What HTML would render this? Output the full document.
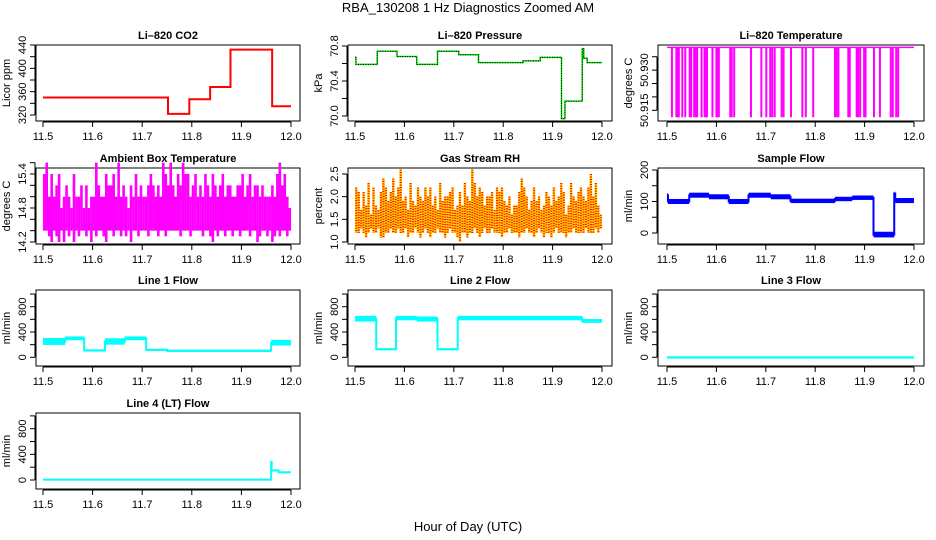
<!DOCTYPE html>
<html><head><meta charset="utf-8">
<style>
html,body{margin:0;padding:0;background:#fff;}
svg{display:block;font-family:"Liberation Sans",sans-serif;}
.pt{font-weight:bold;font-size:11px;}
.tk{font-size:11px;}
</style></head>
<body>
<svg id="fig" width="936" height="540" viewBox="0 0 936 540">
<text x="468" y="12" text-anchor="middle" font-size="13">RBA_130208  1 Hz Diagnostics Zoomed AM</text>
<text x="468" y="531" text-anchor="middle" font-size="13">Hour of Day (UTC)</text>
</svg>
<script>
// ---- data ----
const xTicks = [11.5, 11.6, 11.7, 11.8, 11.9, 12.0];
const xTickLabels = ["11.5", "11.6", "11.7", "11.8", "11.9", "12.0"];

const co2Times = [11.5, 11.752, 11.795, 11.837, 11.878, 11.962, 12.0];
const co2Values = [350, 322, 347, 368, 432, 335, 335];

const presTimes = [11.5, 11.502, 11.545, 11.585, 11.625, 11.667, 11.71, 11.75, 11.84, 11.875, 11.918, 11.925, 11.96, 11.963, 11.97, 12.0];
const presValues = [70.67, 70.59, 70.74, 70.68, 70.59, 70.74, 70.70, 70.61, 70.63, 70.67, 69.97, 70.17, 70.77, 70.66, 70.61, 70.61];

const tempTop = 50.9385;
const tempLow = 50.9124;
const tempDropTimes = [11.510,11.519,11.522,11.524,11.531,11.537,11.546,11.549,11.555,11.558,11.561,11.570,11.576,11.579,11.581,11.592,11.600,11.603,11.605,11.628,11.631,11.636,11.670,11.691,11.701,11.709,11.713,11.718,11.732,11.736,11.751,11.774,11.781,11.796,11.840,11.843,11.847,11.867,11.870,11.884,11.887,11.891,11.899,11.902,11.919,11.931,11.953,11.957,11.964,11.968];

const ambHi = [15.4,15.6,15.0,15.4,15.0,15.2,15.4,14.8,15.0,15.2,15.0,14.8,15.4,15.0,15.0,15.2,14.8,15.2,14.8,15.0,15.0,15.6,15.2,15.0,15.0,15.4,15.2,15.2,15.4,15.0,15.6,15.0,15.2,15.0,14.8,15.2,15.0,15.4,15.0,15.2,15.0,15.0,15.2,15.4,15.2,15.0,15.2,15.0,15.6,15.4,15.2,15.6,15.2,15.0,15.4,15.2,15.6,15.4,15.4,15.0,15.2,15.4,15.0,15.2,15.0,15.4,15.2,15.0,15.4,15.2,15.0,15.2,15.4,15.0,15.2,15.2,15.0,15.0,15.2,15.2,15.4,15.0,15.2,15.4,15.0,15.2,15.2,15.0,15.2,15.0,15.0,15.0,15.2,15.0,15.4,15.6,15.2,15.4,15.0,14.8];
const ambLo = [14.4,14.4,14.3,14.2,14.4,14.3,14.2,14.4,14.2,14.4,14.3,14.4,14.2,14.4,14.3,14.4,14.4,14.3,14.4,14.2,14.4,14.3,14.4,14.4,14.3,14.2,14.4,14.4,14.3,14.4,14.4,14.3,14.4,14.3,14.4,14.2,14.4,14.4,14.3,14.4,14.4,14.4,14.3,14.4,14.4,14.4,14.3,14.4,14.4,14.3,14.4,14.4,14.4,14.4,14.4,14.3,14.4,14.4,14.4,14.3,14.4,14.4,14.4,14.4,14.3,14.4,14.4,14.3,14.2,14.4,14.3,14.4,14.4,14.3,14.4,14.4,14.3,14.4,14.4,14.3,14.4,14.4,14.4,14.3,14.4,14.4,14.2,14.3,14.4,14.4,14.3,14.4,14.2,14.3,14.4,14.3,14.4,14.4,14.3,14.4];

const rhHi = [2.2,2.1,1.7,2.1,1.8,2.3,1.6,2.2,1.8,1.7,2.1,2.4,2.2,1.9,2.1,2.4,2.0,2.2,2.6,1.9,2.0,1.7,2.3,1.9,1.8,2.2,2.0,1.9,2.2,2.0,2.2,1.8,2.0,1.7,2.3,1.9,2.0,2.0,2.1,2.2,1.7,1.8,2.1,1.8,2.3,2.0,1.9,2.6,2.3,2.0,2.2,2.1,1.8,2.0,2.0,2.1,1.7,2.2,2.1,2.2,1.9,1.8,2.0,1.6,1.8,1.8,2.1,2.4,2.2,2.0,1.7,1.9,2.2,1.9,2.0,1.7,1.8,2.1,2.0,1.8,2.2,1.9,2.0,2.3,2.1,1.6,1.8,2.3,2.0,1.9,2.1,2.2,2.0,1.9,2.2,2.5,2.0,2.3,1.8,1.6];
const rhLo = [1.2,1.2,1.3,1.2,1.1,1.2,1.3,1.2,1.2,1.3,1.1,1.1,1.2,1.2,1.3,1.2,1.2,1.3,1.2,1.2,1.3,1.1,1.2,1.2,1.3,1.2,1.1,1.2,1.3,1.2,1.1,1.2,1.2,1.3,1.2,1.2,1.1,1.2,1.3,1.2,1.2,1.1,1.0,1.2,1.2,1.1,1.2,1.2,1.3,1.2,1.1,1.2,1.3,1.2,1.2,1.3,1.2,1.2,1.2,1.1,1.2,1.2,1.3,1.2,1.2,1.2,1.1,1.2,1.2,1.3,1.2,1.2,1.1,1.2,1.3,1.2,1.1,1.2,1.2,1.1,1.2,1.3,1.2,1.2,1.2,1.1,1.2,1.2,1.3,1.2,1.2,1.2,1.2,1.3,1.2,1.2,1.2,1.3,1.2,1.3];

const sampleTimes = [11.5, 11.502, 11.545, 11.585, 11.625, 11.665, 11.71, 11.75, 11.84, 11.875, 11.918, 11.96, 11.962, 12.0];
const sampleValues = [120, 100, 120, 115, 100, 120, 115, 102, 108, 112, -5, 125, 103, 103];
const sampleSpread = [6, 8, 8, 8, 8, 8, 8, 7, 7, 7, 9, 6, 8, 8];

const line1Times = [11.5, 11.545, 11.583, 11.625, 11.665, 11.708, 11.75, 11.96, 12.0];
const line1Values = [250, 300, 110, 250, 300, 120, 105, 230, 230];
const line1Spread = [55, 30, 4, 50, 30, 4, 3, 45, 45];

const line2Times = [11.5, 11.543, 11.583, 11.625, 11.667, 11.708, 11.96, 12.0];
const line2Values = [610, 130, 620, 605, 130, 620, 575, 575];
const line2Spread = [45, 4, 35, 40, 4, 35, 30, 30];

const line3Times = [11.5, 12.0];
const line3Values = [0, 0];
const line3Spread = [4, 4];

const line4Times = [11.5, 11.96, 11.961, 11.975, 12.0];
const line4Values = [5, 280, 150, 120, 120];
const line4Spread = [10, 5, 10, 12, 12];

// ---- layout ----
const NS = "http://www.w3.org/2000/svg";
const svg = document.getElementById('fig');
const cols = [{b0:36,b1:300,x0:43,x1:291},{b0:348,b1:612,x0:355,x1:602},{b0:658,b1:924,x0:667,x1:914}];
const rows = [{t:45,b:121},{t:168,b:244},{t:290,b:366},{t:413,b:489}];

function mk(tag, attrs, parent){
  const e = document.createElementNS(NS, tag);
  for (const k in attrs) e.setAttribute(k, attrs[k]);
  (parent||svg).appendChild(e);
  return e;
}

function panel(name, title, col, row, yv0, yp0, yv1, yp1, yTicks, yLabels, yTitle){
  const c = cols[col], r = rows[row];
  const g = mk('g', {});
  
  
  const xs = t => c.x0 + (t - 11.5) / 0.5 * (c.x1 - c.x0);
  const ys = v => yp0 + (v - yv0) / (yv1 - yv0) * (yp1 - yp0);
  const t = mk('text', {x:(c.b0+c.b1)/2, y:r.t-6, 'text-anchor':'middle', class:'pt'}, g);
  t.textContent = title;
  
  
  const box = mk('rect', {x:c.b0, y:r.t, width:c.b1-c.b0, height:r.b-r.t, fill:'none', stroke:'#000', 'stroke-width':1}, g);
  
  
  const marks = mk('g', {}, g);
  
  
  const xa = mk('g', {}, g);
  
  
  mk('line', {x1:xs(11.5), x2:xs(12), y1:r.b+1, y2:r.b+1, stroke:'#000'}, xa);
  xTicks.forEach((v,i)=>{
    mk('line', {x1:xs(v), x2:xs(v), y1:r.b+1, y2:r.b+6, stroke:'#000'}, xa);
    const tl = mk('text', {x:xs(v), y:r.b+19, 'text-anchor':'middle', class:'tk'}, xa);
    tl.textContent = xTickLabels[i];
  });
  const ya = mk('g', {}, g);
  
  
  const ax = c.b0 - 1;
  mk('line', {x1:ax, x2:ax, y1:ys(yTicks[0]), y2:ys(yTicks[yTicks.length-1]), stroke:'#000'}, ya);
  yTicks.forEach((v,i)=>{
    mk('line', {x1:ax-5, x2:ax, y1:ys(v), y2:ys(v), stroke:'#000'}, ya);
    if (yLabels[i]) {
      const tl = mk('text', {x:0, y:0, 'text-anchor':'middle', class:'tk', transform:`translate(${ax-9},${ys(v)}) rotate(-90)`}, ya);
      tl.textContent = yLabels[i];
    }
  });
  const yt = mk('text', {x:0, y:0, 'text-anchor':'middle', class:'tk', transform:`translate(${c.b0-26},${(r.t+r.b)/2}) rotate(-90)`}, g);
  yt.textContent = yTitle;
  
  
  return {xs, ys, marks};
}

function stepPath(p, times, values){
  let d = '';
  for (let i=0;i<times.length;i++){
    const x = p.xs(times[i]), y = p.ys(values[i]);
    if (i===0) d += `M${x},${y}`;
    else d += `V${y}H${x}`;
    if (i < times.length-1) d += `H${p.xs(times[i+1])}`;
  }
  return d;
}
function bands(p, times, values, spread, color){
  for (let i=0;i<times.length-1;i++){
    const y0 = p.ys(values[i]+spread[i]), y1 = p.ys(values[i]-spread[i]);
    const rc = mk('rect', {x:p.xs(times[i]), y:Math.min(y0,y1), width:p.xs(times[i+1])-p.xs(times[i]), height:Math.max(1.5,Math.abs(y1-y0)), fill:color}, p.marks);
    
    
  }
  const pa = mk('path', {d:stepPath(p, times, values), fill:'none', stroke:color, 'stroke-width':2}, p.marks);
  
  
}
function ranges(p, hi, lo, color){
  const n = hi.length, w = 0.5/n;
  for (let i=0;i<n;i++){
    const x = p.xs(11.5 + (i+0.5)*w);
    const l = mk('line', {x1:x, x2:x, y1:p.ys(hi[i]), y2:p.ys(lo[i]), stroke:color, 'stroke-width':2.6}, p.marks);
    
    
  }
}

const pc = panel('co2', 'Li\u2013820 CO2', 0, 0, 440, 45, 320, 115, [320,340,360,380,400,420,440], ['320','','360','','400','','440'], 'Licor ppm');
const pcl = mk('path', {d:stepPath(pc, co2Times, co2Values), fill:'none', stroke:'#f00', 'stroke-width':2}, pc.marks);



const pp = panel('pressure', 'Li\u2013820 Pressure', 1, 0, 70.8, 46, 70.0, 116, [70.0,70.2,70.4,70.6,70.8], ['70.0','','70.4','','70.8'], 'kPa');
const ppl = mk('path', {d:stepPath(pp, presTimes, presValues), fill:'none', stroke:'#0d0', 'stroke-width':1.5}, pp.marks);


const ppd = mk('path', {d:stepPath(pp, presTimes, presValues), fill:'none', stroke:'#000', 'stroke-width':1, 'stroke-dasharray':'1 1.5'}, pp.marks);



const pt = panel('li820-temp', 'Li\u2013820 Temperature', 2, 0, 50.935, 56.7, 50.915, 110.3, [50.915,50.920,50.925,50.930,50.935], ['50.915','','','50.930',''], 'degrees C');
const ptl = mk('line', {x1:pt.xs(11.5), x2:pt.xs(12), y1:pt.ys(tempTop), y2:pt.ys(tempTop), stroke:'#f0f', 'stroke-width':1.5}, pt.marks);


tempDropTimes.forEach(t=>{
  const l = mk('line', {x1:pt.xs(t), x2:pt.xs(t), y1:pt.ys(tempTop), y2:pt.ys(tempLow), stroke:'#f0f', 'stroke-width':2}, pt.marks);
  
  
});

const pa = panel('ambient-temp', 'Ambient Box Temperature', 0, 1, 15.4, 174, 14.2, 242, [14.2,14.4,14.6,14.8,15.0,15.2,15.4,15.6], ['14.2','','','14.8','','','15.4',''], 'degrees C');
ranges(pa, ambHi, ambLo, '#f0f');

const pr = panel('gas-rh', 'Gas Stream RH', 1, 1, 2.5, 174, 1.0, 242, [1.0,1.5,2.0,2.5], ['1.0','1.5','2.0','2.5'], 'percent');
ranges(pr, rhHi, rhLo, '#ffd000');
(function(){
  const n = rhHi.length, w = 0.5/n;
  for (let i=0;i<n;i++){
    const x = pr.xs(11.5 + (i+0.5)*w);
    const l = mk('line', {x1:x, x2:x, y1:pr.ys(rhHi[i]), y2:pr.ys(rhLo[i]), stroke:'#f00', 'stroke-width':2, 'stroke-dasharray':'1 1.5'}, pr.marks);
    
    
  }
})();

const ps = panel('sample-flow', 'Sample Flow', 2, 1, 200, 170, 0, 233, [0,50,100,150,200], ['0','','100','','200'], 'ml/min');
bands(ps, sampleTimes, sampleValues, sampleSpread, '#00f');

const lt = [0,200,400,600,800,1000], ll = ['0','','400','','800',''];
const p1 = panel('line1-flow', 'Line 1 Flow', 0, 2, 800, 306.7, 0, 357.3, lt, ll, 'ml/min');
bands(p1, line1Times, line1Values, line1Spread, '#0ff');
const p2 = panel('line2-flow', 'Line 2 Flow', 1, 2, 800, 306.7, 0, 357.3, lt, ll, 'ml/min');
bands(p2, line2Times, line2Values, line2Spread, '#0ff');
const p3 = panel('line3-flow', 'Line 3 Flow', 2, 2, 800, 306.7, 0, 357.3, lt, ll, 'ml/min');
bands(p3, line3Times, line3Values, line3Spread, '#0ff');
const p4 = panel('line4-flow', 'Line 4 (LT) Flow', 0, 3, 800, 428.7, 0, 480, lt, ll, 'ml/min');
bands(p4, line4Times, line4Values, line4Spread, '#0ff');
</script>
</body></html>
